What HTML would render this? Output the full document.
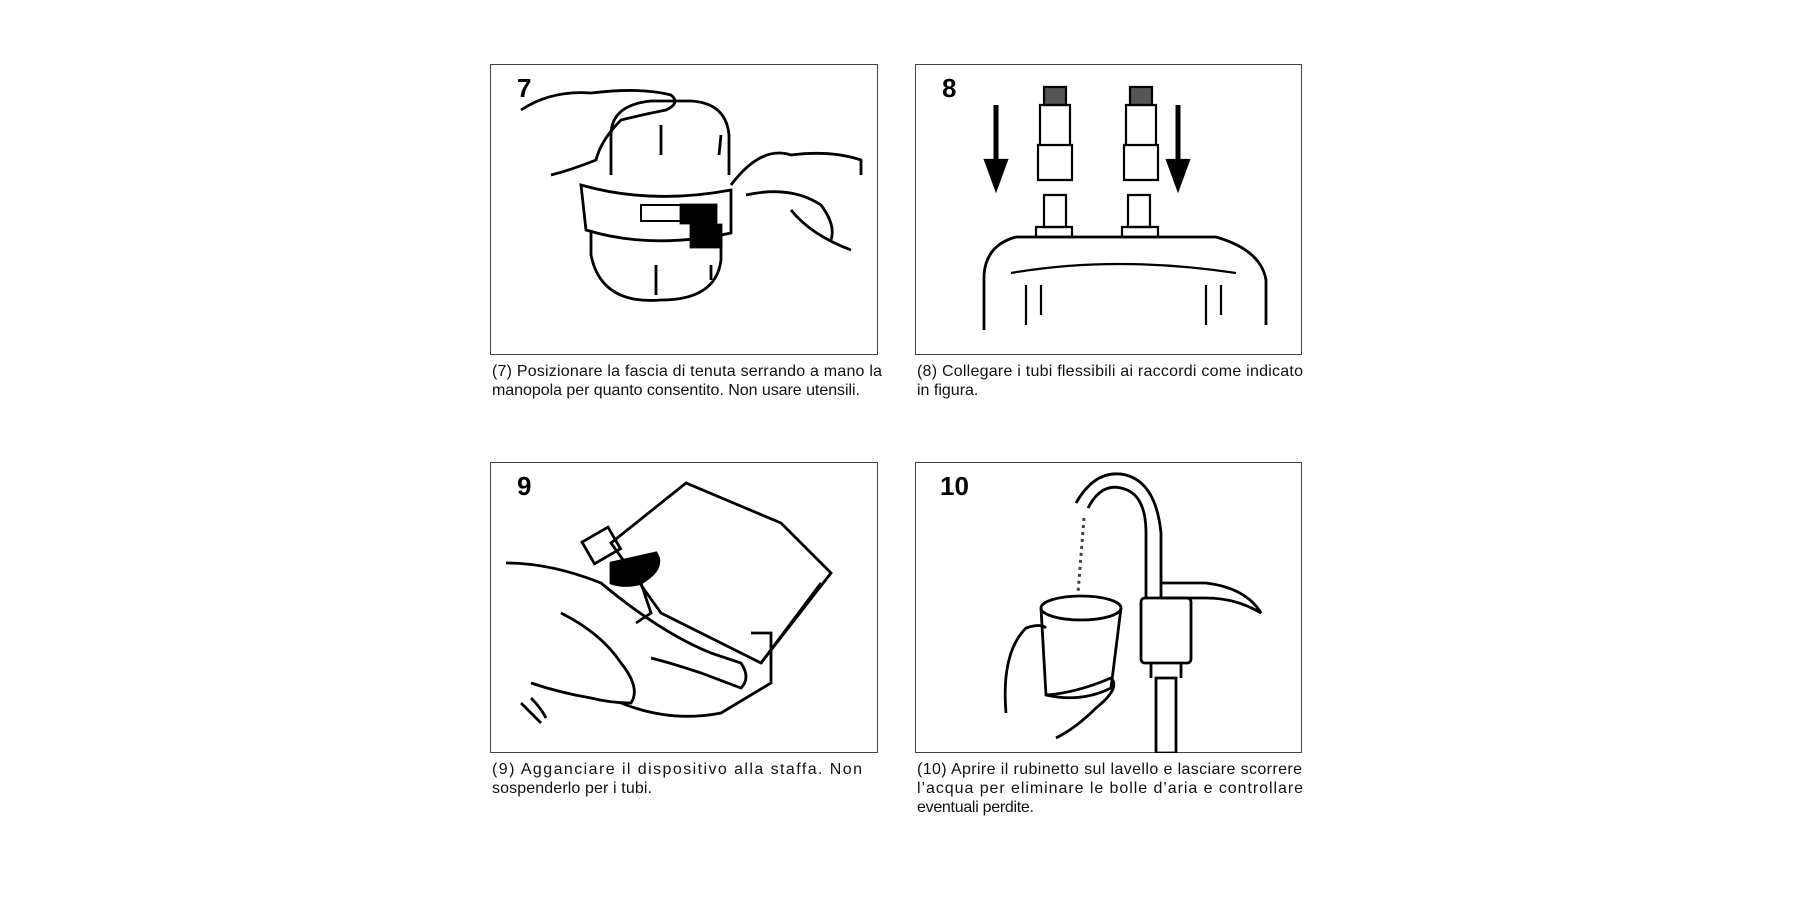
<!DOCTYPE html>
<html><head><meta charset="utf-8"><style>
html,body{margin:0;padding:0;background:#fff;width:1800px;height:900px;overflow:hidden}
.box{position:absolute;border:1px solid #444;background:#fff;box-sizing:border-box}
.num{position:absolute;font-family:"Liberation Sans",sans-serif;font-weight:bold;font-size:26px;color:#000}
svg{position:absolute;left:0;top:0}
.cap text{font-family:"Liberation Sans",sans-serif;font-size:16px;fill:#111}
</style></head><body>

<div class="box" style="left:490px;top:64px;width:388px;height:291px">
<svg width="388" height="290" viewBox="0 0 388 290" fill="none" stroke="#000" stroke-width="2.8">
<path d="M120 70 Q120 40 160 36 L200 36 Q235 38 238 70 L238 110"/>
<path d="M120 70 L120 110"/>
<path d="M30 45 Q60 25 100 28 Q150 22 180 30 Q190 38 175 45 Q150 50 130 55 Q110 75 105 95 Q80 105 60 110"/>
<path d="M90 120 Q160 140 240 125 L240 168 Q160 185 95 165 Z"/>
<path d="M100 165 L100 190 Q110 240 170 235 Q225 235 230 195 L230 170"/>
<rect x="150" y="140" width="40" height="16" stroke-width="2"/>
<rect x="190" y="140" width="35" height="18" fill="#000"/>
<rect x="200" y="160" width="30" height="22" fill="#000"/>
<path d="M240 120 Q270 80 300 90 Q340 85 370 95 L370 110"/>
<path d="M255 130 Q300 120 330 140 Q345 160 340 175"/>
<path d="M300 145 Q320 170 360 185"/>
<path d="M170 60 L170 90 M230 70 L228 90 M165 200 L165 230 M220 200 L220 215"/>
</svg>
<div class="num" style="left:26px;top:8px">7</div>
</div>

<div class="box" style="left:915px;top:64px;width:387px;height:291px">
<svg width="388" height="290" viewBox="0 0 388 290" fill="none" stroke="#000" stroke-width="2.2">
<path d="M80 40 L80 95" stroke-width="5"/>
<path d="M69 95 L91 95 L80 125 Z" fill="#000"/>
<path d="M262 40 L262 95" stroke-width="5"/>
<path d="M251 95 L273 95 L262 125 Z" fill="#000"/>
<rect x="128" y="22" width="22" height="18" fill="#555"/>
<rect x="214" y="22" width="22" height="18" fill="#555"/>
<path d="M124 40 h30 v40 h-30 z M122 80 h34 v35 h-34 z"/>
<path d="M210 40 h30 v40 h-30 z M208 80 h34 v35 h-34 z"/>
<path d="M128 130 h22 v32 h-22 z M212 130 h22 v32 h-22 z"/>
<path d="M120 162 h36 v10 h-36 z M206 162 h36 v10 h-36 z"/>
<path d="M100 172 L300 172 Q345 185 350 215 L350 260 M100 172 Q70 180 68 210 L68 265" stroke-width="2.8"/>
<path d="M95 208 Q200 190 320 208"/>
<path d="M110 220 L110 260 M125 220 L125 250 M290 220 L290 260 M305 220 L305 250"/>
</svg>
<div class="num" style="left:26px;top:8px">8</div>
</div>

<div class="box" style="left:490px;top:462px;width:388px;height:291px">
<svg width="388" height="290" viewBox="0 0 388 290" fill="none" stroke="#000" stroke-width="2.8">
<path d="M120 80 L195 20 L290 60 L340 110 L270 200 L170 150 Z"/>
<path d="M270 200 L330 120"/>
<rect x="95" y="70" width="30" height="25" transform="rotate(-30 110 82)"/>
<path d="M120 100 L165 90 Q175 105 150 120 Q135 125 120 120 Z" fill="#000"/>
<path d="M150 120 L160 150 L145 160"/>
<path d="M15 100 Q60 100 110 120 Q170 170 220 190 L250 200 Q260 215 250 225 L210 210 Q180 200 160 195"/>
<path d="M70 150 Q110 170 130 200 Q150 225 140 240 Q120 240 100 235 Q70 230 40 220"/>
<path d="M130 240 Q180 260 230 250 L280 220 L280 170 L260 170"/>
<path d="M30 240 Q40 250 50 260 M40 235 Q50 245 55 255"/>
</svg>
<div class="num" style="left:26px;top:8px">9</div>
</div>

<div class="box" style="left:915px;top:462px;width:387px;height:291px">
<svg width="388" height="290" viewBox="0 0 388 290" fill="none" stroke="#000" stroke-width="2.8">
<path d="M160 40 Q180 5 210 12 Q240 20 245 70 L245 135"/>
<path d="M172 45 Q185 20 205 25 Q230 30 230 70 L230 135"/>
<path d="M168 55 L162 130" stroke="#444" stroke-width="3" stroke-dasharray="3 4"/>
<path d="M245 120 L290 120 Q330 125 345 150 Q320 135 290 135 L245 135"/>
<rect x="225" y="135" width="50" height="65" rx="4"/>
<path d="M235 200 v15 M265 200 v15 M240 215 h20 v75 h-20 z"/>
<ellipse cx="165" cy="145" rx="40" ry="12"/>
<path d="M125 145 L130 232 Q165 240 195 225 L205 145"/>
<path d="M90 250 Q85 190 110 165 Q125 160 130 165"/>
<path d="M130 232 Q160 230 195 215 Q205 225 180 245 Q160 265 140 275"/>
</svg>
<div class="num" style="left:24px;top:8px">10</div>
</div>

<svg class="cap" width="1800" height="900">
<text x="492" y="376" textLength="390" lengthAdjust="spacing">(7) Posizionare la fascia di tenuta serrando a mano la</text>
<text x="492" y="395" textLength="368" lengthAdjust="spacing">manopola per quanto consentito. Non usare utensili.</text>
<text x="917" y="376" textLength="386" lengthAdjust="spacing">(8) Collegare i tubi flessibili ai raccordi come indicato</text>
<text x="917" y="395">in figura.</text>
<text x="492" y="774" textLength="370" lengthAdjust="spacing">(9) Agganciare il dispositivo alla staffa. Non</text>
<text x="492" y="793" textLength="160" lengthAdjust="spacing">sospenderlo per i tubi.</text>
<text x="917" y="774" textLength="385" lengthAdjust="spacing">(10) Aprire il rubinetto sul lavello e lasciare scorrere</text>
<text x="917" y="793" textLength="386" lengthAdjust="spacing">l’acqua per eliminare le bolle d’aria e controllare</text>
<text x="917" y="812" textLength="117" lengthAdjust="spacing">eventuali perdite.</text>
</svg>
</body></html>
